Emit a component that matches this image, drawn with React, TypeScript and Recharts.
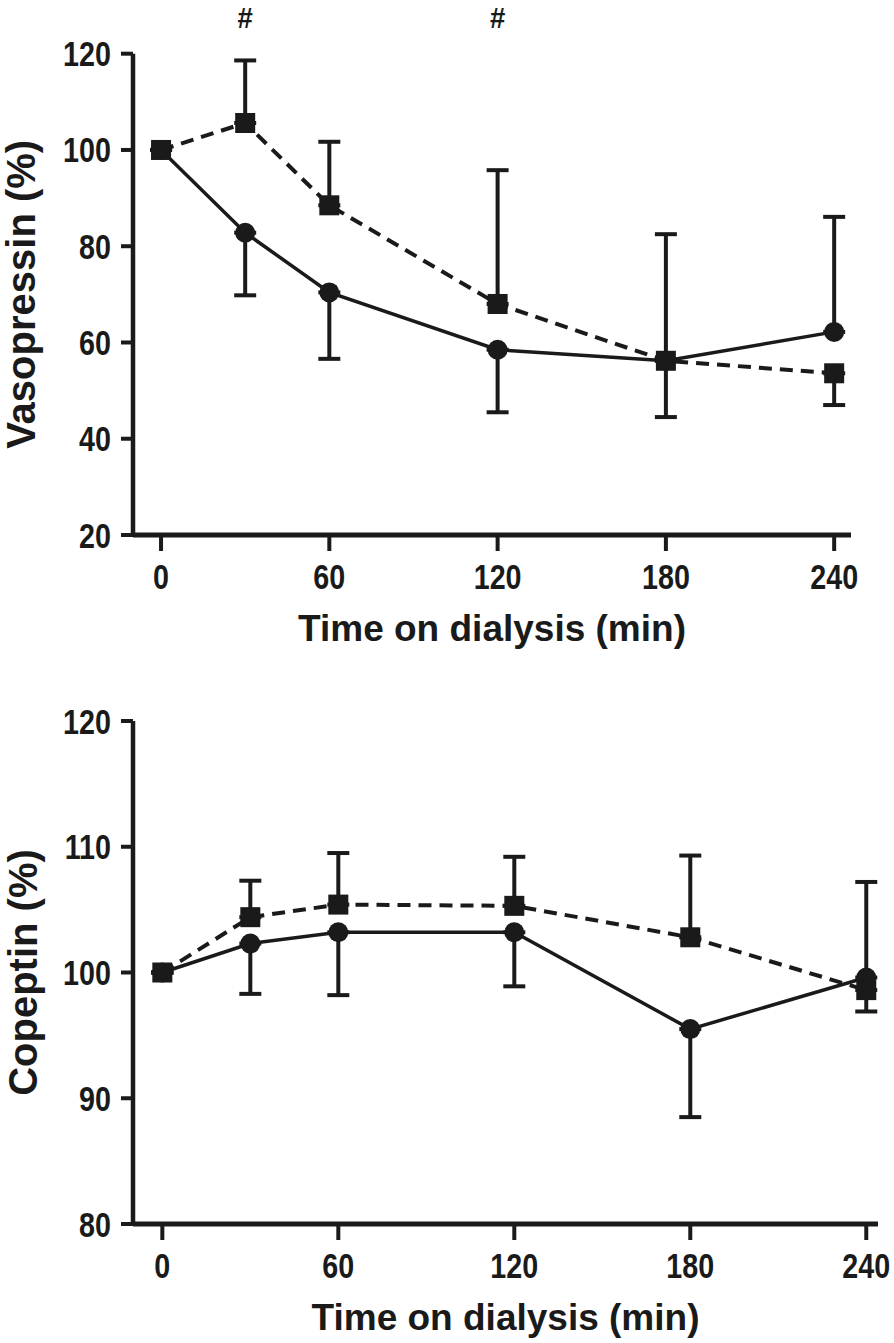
import { ErrorBar, Line, LineChart, ReferenceDot, XAxis, YAxis } from 'recharts';

const times = [0, 30, 60, 120, 180, 240];
const xTicks = [0, 60, 120, 180, 240];

// vasopressin, % of baseline
const avpCircle = [100, 82.8, 70.4, 58.5, 56.2, 62.2];
const avpCircleDown = [0, 13, 13.8, 13, 11.7, 0];
const avpCircleUp = [0, 0, 0, 0, 0, 23.9];
const avpSquare = [100, 105.6, 88.5, 68, 56.2, 53.6];
const avpSquareDown = [0, 0, 0, 0, 0, 6.6];
const avpSquareUp = [0, 13, 13.2, 27.8, 26.3, 0];
const avpTicks = [20, 40, 60, 80, 100, 120];
const avpSig = [30, 120];

// copeptin, % of baseline
const copCircle = [100, 102.3, 103.2, 103.2, 95.5, 99.6];
const copCircleDown = [0, 4, 5, 4.3, 7, 0];
const copCircleUp = [0, 0, 0, 0, 0, 7.6];
const copSquare = [100, 104.4, 105.4, 105.3, 102.8, 98.6];
const copSquareDown = [0, 0, 0, 0, 0, 1.7];
const copSquareUp = [0, 2.9, 4.1, 3.9, 6.5, 0];
const copTicks = [80, 90, 100, 110, 120];

const INK = '#1a1a1a';
const FONT = "'Liberation Sans', Arial, sans-serif";

function rows(c: number[], cd: number[], cu: number[], s: number[], sd: number[], su: number[]) {
  return times.map((t, i) => ({
    t,
    c: c[i],
    cErr: [cd[i], cu[i]],
    s: s[i],
    sErr: [sd[i], su[i]],
  }));
}

const avpRows = rows(avpCircle, avpCircleDown, avpCircleUp, avpSquare, avpSquareDown, avpSquareUp);
const copRows = rows(copCircle, copCircleDown, copCircleUp, copSquare, copSquareDown, copSquareUp);

// narrow bold text, squeezed horizontally round its anchor
function Narrow({ x, y, dy, anchor, size, sx = 0.82, children }: any) {
  return (
    <text
      transform={`translate(${x} ${y}) scale(${sx} 1)`}
      x={0}
      y={0}
      dy={dy}
      textAnchor={anchor}
      fill={INK}
      fontSize={size}
      fontWeight="bold"
      fontFamily={FONT}
    >
      {children}
    </text>
  );
}

const CircleDot = (p: any) =>
  p.cx == null ? null : <circle key={`c-${p.index}`} cx={p.cx} cy={p.cy} r={10} fill={INK} />;

const SquareDot = (p: any) =>
  p.cx == null ? null : (
    <rect key={`s-${p.index}`} x={p.cx - 10} y={p.cy - 10} width={20} height={20} fill={INK} />
  );

type PanelProps = {
  data: any[];
  height: number;
  top: number;
  right: number;
  xHeight: number;
  xMax: number;
  yDomain: [number, number];
  yTicks: number[];
  yLabel: string;
  labelX: number;
  sig?: number[];
};

function Panel({ data, height, top, right, xHeight, xMax, yDomain, yTicks, yLabel, labelX, sig = [] }: PanelProps) {
  return (
    <LineChart width={894} height={height} data={data} margin={{ top, right, left: 0, bottom: 0 }}>
      <XAxis
        type="number"
        dataKey="t"
        domain={[-10, xMax]}
        ticks={xTicks}
        height={xHeight}
        tickSize={16}
        tickMargin={0}
        axisLine={{ stroke: INK, strokeWidth: 5 }}
        tickLine={{ stroke: INK, strokeWidth: 4 }}
        tick={(p: any) => (
          <Narrow x={p.x} y={p.y} dy={38} anchor="middle" size={35}>
            {p.payload.value}
          </Narrow>
        )}
        label={{
          content: (p: any) => {
            const vb = p.viewBox;
            return (
              <text x={vb.x + vb.width / 2} y={vb.y + 106} textAnchor="middle" fill={INK} fontSize={37} fontWeight="bold" fontFamily={FONT}>
                Time on dialysis (min)
              </text>
            );
          },
        }}
      />
      <YAxis
        type="number"
        domain={yDomain}
        ticks={yTicks}
        width={133}
        tickSize={12}
        tickMargin={10}
        axisLine={{ stroke: INK, strokeWidth: 4.5 }}
        tickLine={{ stroke: INK, strokeWidth: 4 }}
        tick={(p: any) => (
          <Narrow x={p.x} y={p.y} dy={12.5} anchor="end" size={35}>
            {p.payload.value}
          </Narrow>
        )}
        label={{
          content: (p: any) => {
            const vb = p.viewBox;
            const cy = vb.y + vb.height / 2;
            return (
              <text
                x={labelX}
                y={cy}
                transform={`rotate(-90 ${labelX} ${cy})`}
                textAnchor="middle"
                dominantBaseline="central"
                fill={INK}
                fontSize={40}
                fontWeight="bold"
                fontFamily={FONT}
              >
                {yLabel}
              </text>
            );
          },
        }}
      />
      <Line
        type="linear"
        dataKey="c"
        stroke={INK}
        strokeWidth={3.5}
        dot={CircleDot}
        activeDot={false}
        isAnimationActive={false}
      >
        <ErrorBar dataKey="cErr" direction="y" width={11} stroke={INK} strokeWidth={4} isAnimationActive={false} />
      </Line>
      <Line
        type="linear"
        dataKey="s"
        stroke={INK}
        strokeWidth={4}
        strokeDasharray="13 8"
        dot={SquareDot}
        activeDot={false}
        isAnimationActive={false}
      >
        <ErrorBar dataKey="sErr" direction="y" width={11} stroke={INK} strokeWidth={4} isAnimationActive={false} />
      </Line>
      {sig.map((t) => (
        <ReferenceDot
          key={t}
          x={t}
          y={yDomain[1]}
          r={0}
          fill="none"
          stroke="none"
          ifOverflow="visible"
          label={{
            content: (p: any) => {
              const vb = p.viewBox;
              return (
                <Narrow x={vb.x + (vb.width || 0) / 2} y={vb.y} dy={-26} anchor="middle" size={29} sx={0.95}>
                  #
                </Narrow>
              );
            },
          }}
        />
      ))}
    </LineChart>
  );
}

export default function App() {
  return (
    <div style={{ position: 'absolute', left: 0, top: 0, width: 894, height: 1343, background: '#fff' }}>
      <Panel
        data={avpRows}
        height={680}
        top={53.7}
        right={43}
        xHeight={145}
        xMax={246}
        yDomain={[20, 120]}
        yTicks={avpTicks}
        yLabel="Vasopressin (%)"
        labelX={21}
        sig={avpSig}
      />
      <Panel
        data={copRows}
        height={663}
        top={41}
        right={16}
        xHeight={119}
        xMax={244}
        yDomain={[80, 120]}
        yTicks={copTicks}
        yLabel="Copeptin (%)"
        labelX={23}
      />
    </div>
  );
}
